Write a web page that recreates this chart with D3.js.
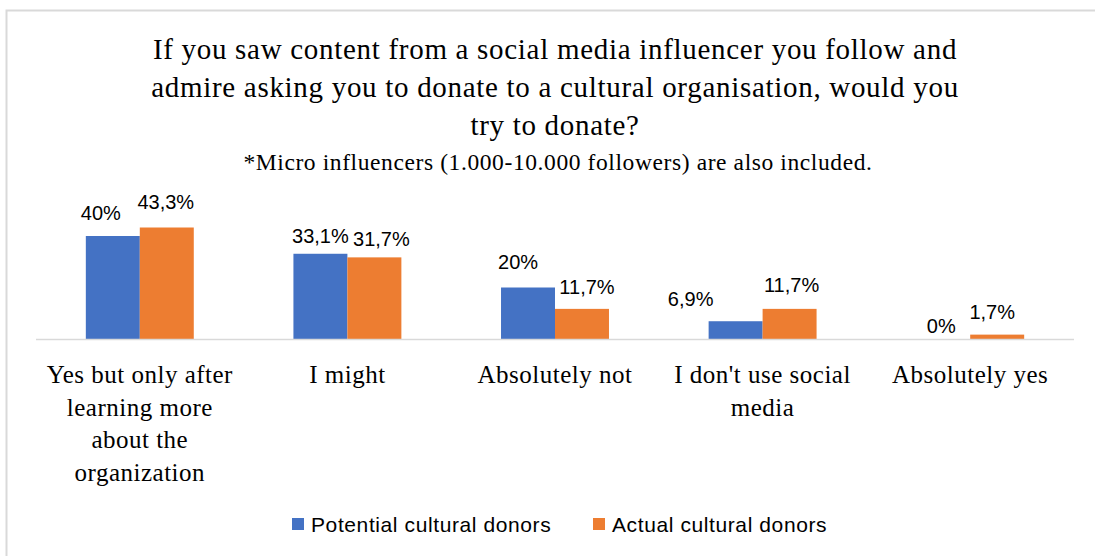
<!DOCTYPE html>
<html>
<head>
<meta charset="utf-8">
<script src="https://cdn.jsdelivr.net/npm/d3@7"></script>
<style>
  html, body { margin: 0; padding: 0; background: #fff; }
  svg { display: block; }
</style>
</head>
<body>
<svg id="chart" width="1095" height="556"></svg>
<script>
// Survey answers (line breaks mark where each label wraps)
const categories = [
  "Yes but only after\nlearning more\nabout the\norganization",
  "I might",
  "Absolutely not",
  "I don't use social\nmedia",
  "Absolutely yes"
];
const seriesNames = ["Potential cultural donors", "Actual cultural donors"];
const potentialDonors = [40, 33.1, 20, 6.9, 0];
const actualDonors = [43.3, 31.7, 11.7, 11.7, 1.7];
const titleLines = [
  "If you saw content from a social media influencer you follow and",
  "admire asking you to donate to a cultural organisation, would you",
  "try to donate?"
];
const subtitle = "*Micro influencers (1.000-10.000 followers) are also included.";

// Layout and styling
const colors = ["#4472c4", "#ed7d31"];
const serif = "'Liberation Serif', 'Times New Roman', serif";
const sans = "'Liberation Sans', Arial, sans-serif";

const svg = d3.select("#chart");
const W = 1095, H = 556;

// chart frame
svg.append("rect")
  .attr("x", 6.5).attr("y", 10.5)
  .attr("width", W + 20).attr("height", H + 20)
  .attr("fill", "none").attr("stroke", "#d9d9d9").attr("stroke-width", 2);

// title
const title = svg.append("g").attr("font-family", serif).attr("fill", "#000").attr("text-anchor", "middle");
titleLines.forEach((t, i) => {
  title.append("text").attr("x", 555).attr("y", 59 + i * 38)
    .attr("font-size", 29).attr("letter-spacing", 0.7).text(t);
});
title.append("text").attr("x", 558).attr("y", 170)
  .attr("font-size", 23.5).attr("letter-spacing", 0.6).text(subtitle);

const baseY = 339;
const x0 = d3.scaleBand().domain(categories).range([36, 1074]).paddingInner(0.48).paddingOuter(0.24);
const x1 = d3.scaleBand().domain(seriesNames).range([0, x0.bandwidth()]);
const y = d3.scaleLinear().domain([0, 50]).range([baseY, baseY - 128.75]);

const rows = categories.map((c, i) => ({
  category: c,
  values: [potentialDonors[i], actualDonors[i]]
}));

const fmt = v => String(v).replace(".", ",") + "%";

const groups = svg.append("g").selectAll("g").data(rows).join("g")
  .attr("transform", d => `translate(${x0(d.category)},0)`);

groups.selectAll("rect").data(d => d.values.map((v, s) => ({ v, s }))).join("rect")
  .attr("x", d => x1(seriesNames[d.s]))
  .attr("y", d => y(d.v))
  .attr("width", x1.bandwidth())
  .attr("height", d => baseY - y(d.v))
  .attr("fill", d => colors[d.s]);

// axis line
svg.append("line")
  .attr("x1", 36).attr("x2", 1074).attr("y1", baseY + 0.5).attr("y2", baseY + 0.5)
  .attr("stroke", "#d9d9d9").attr("stroke-width", 1.5);

// value label offsets [dx, dy] so neighbouring labels do not collide
const nudges = [
  [[-12, -2], [-1, -5]],
  [[0, 3], [7, 3]],
  [[-10, -5], [5, -1]],
  [[-45, -1], [2, -3]],
  [[-2, 8], [-5, -2]]
];
groups.selectAll("text.val").data((d, ci) => d.values.map((v, s) => ({ v, s, ci }))).join("text")
  .attr("class", "val")
  .attr("x", d => x1(seriesNames[d.s]) + x1.bandwidth() / 2 + nudges[d.ci][d.s][0])
  .attr("y", d => y(d.v) - 14 + nudges[d.ci][d.s][1])
  .attr("text-anchor", "middle")
  .attr("font-family", sans).attr("font-size", 20).attr("fill", "#000")
  .text(d => fmt(d.v));

// category labels
const catG = svg.append("g").attr("font-family", serif).attr("font-size", 25)
  .attr("letter-spacing", 0.5).attr("text-anchor", "middle");
categories.forEach(c => {
  const cx = x0(c) + x0.bandwidth() / 2;
  c.split("\n").forEach((line, i) => {
    catG.append("text").attr("x", cx).attr("y", 383 + i * 32.5).text(line);
  });
});

// legend
const legend = svg.append("g").attr("font-family", sans).attr("font-size", 21).attr("letter-spacing", 0.6);
const legendX = [292, 593];
seriesNames.forEach((name, i) => {
  legend.append("rect").attr("x", legendX[i]).attr("y", 518).attr("width", 12).attr("height", 12).attr("fill", colors[i]);
  legend.append("text").attr("x", legendX[i] + 19).attr("y", 531.5).text(name);
});
</script>
</body>
</html>
